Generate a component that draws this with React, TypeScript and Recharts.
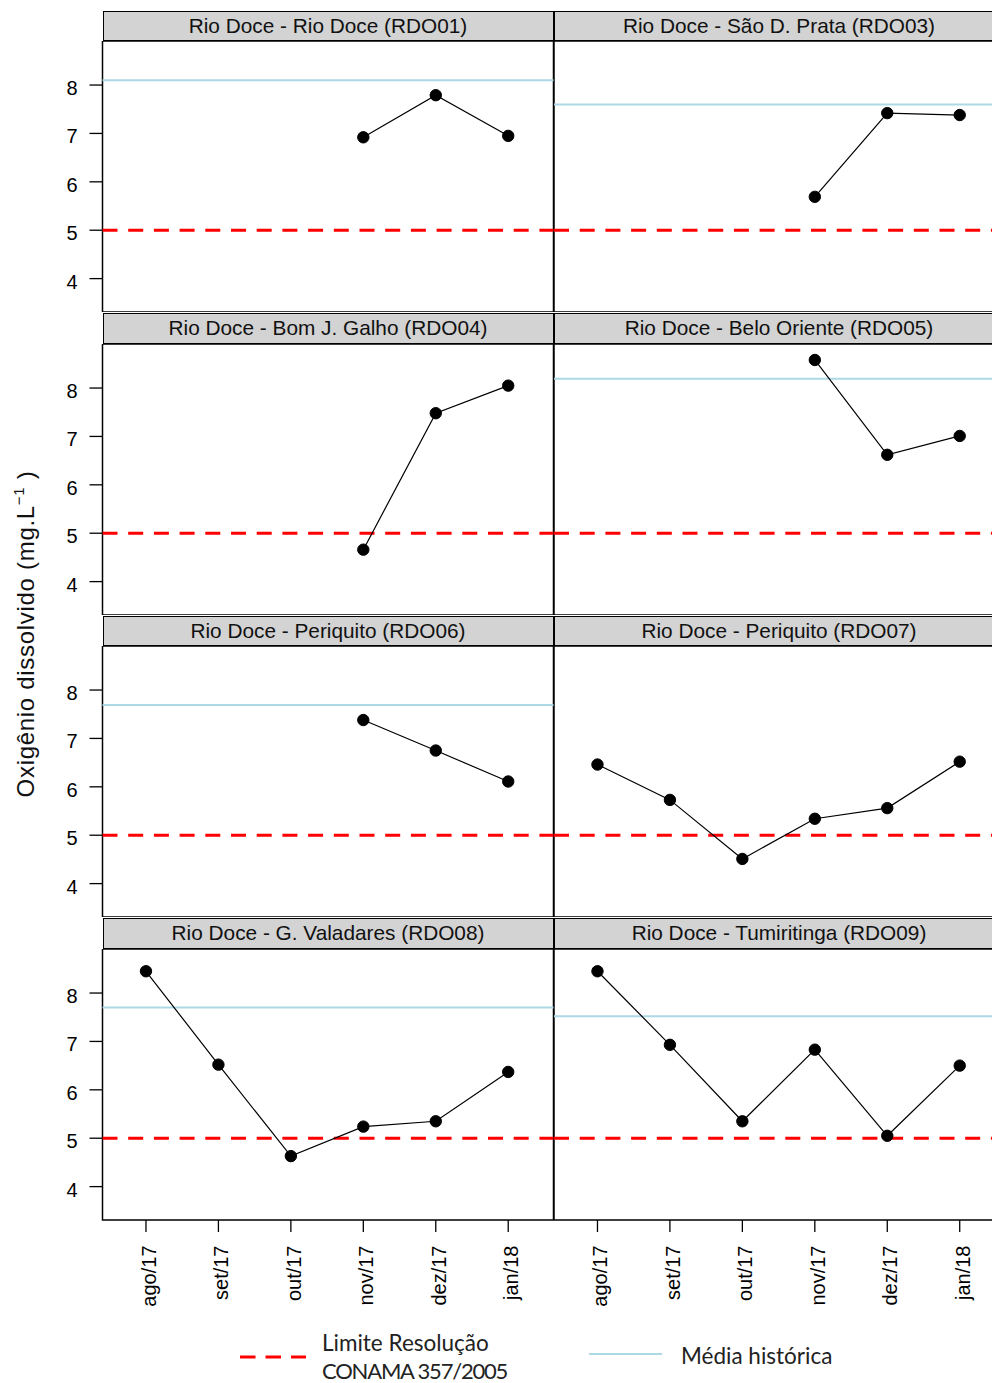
import React from "react";
import { LineChart, Line, XAxis, YAxis, ReferenceLine, ReferenceArea } from "recharts";

const months = ["ago/17", "set/17", "out/17", "nov/17", "dez/17", "jan/18"];
const stations = [
  "Rio Doce - Rio Doce (RDO01)",
  "Rio Doce - São D. Prata (RDO03)",
  "Rio Doce - Bom J. Galho (RDO04)",
  "Rio Doce - Belo Oriente (RDO05)",
  "Rio Doce - Periquito (RDO06)",
  "Rio Doce - Periquito (RDO07)",
  "Rio Doce - G. Valadares (RDO08)",
  "Rio Doce - Tumiritinga (RDO09)",
];

// oxigênio dissolvido (mg/L), ago/17 .. jan/18
const rdo01 = [null, null, null, 6.92, 7.79, 6.95];
const rdo03 = [null, null, null, 5.69, 7.42, 7.38];
const rdo04 = [null, null, null, 4.66, 7.48, 8.05];
const rdo05 = [null, null, null, 8.58, 6.62, 7.01];
const rdo06 = [null, null, null, 7.38, 6.75, 6.11];
const rdo07 = [6.46, 5.73, 4.51, 5.34, 5.56, 6.52];
const rdo08 = [8.45, 6.52, 4.63, 5.24, 5.35, 6.37];
const rdo09 = [8.45, 6.93, 5.35, 6.83, 5.05, 6.5];
const series = [rdo01, rdo03, rdo04, rdo05, rdo06, rdo07, rdo08, rdo09];

const historicalMean = [8.1, 7.6, null, 8.19, 7.69, null, 7.7, 7.52];
const conamaLimit = 5;
const yTicks = [4, 5, 6, 7, 8];

const yDomain = [3.31, 8.91];
const xDomain = [-0.6, 5.625];
const font = "'Liberation Sans', Arial, sans-serif";
const legendFont = "Lato, 'Open Sans', sans-serif";

const panelW = 451;
const panelH = 271;
const stripH = 30.7;
const axisW = 102.5;
const rowTop = (r: number) => 41.3 + r * 302.5;

const YTick = (props: any) => {
  const { x, y, payload } = props;
  return (
    <text x={x} y={y} dy={10} textAnchor="end" fontSize={20} fontFamily={font} fill="#000">
      {payload.value}
    </text>
  );
};

const MonthTick = (props: any) => {
  const { x, y, payload } = props;
  return (
    <g transform={`translate(${x},${y})`}>
      <text transform="rotate(-90)" textAnchor="end" dy={10} fontSize={20} fontFamily={font} fill="#000">
        {months[payload.value]}
      </text>
    </g>
  );
};

function Panel({ idx }: { idx: number }) {
  const row = Math.floor(idx / 2);
  const col = idx % 2;
  const bottom = row === 3;
  const left = col === 0;
  const data = months.map((m, i) => ({ i, v: series[idx][i] }));
  const w = (left ? axisW : 0) + panelW;
  const h = panelH + (bottom ? 110 : 0);
  const x0 = left ? 0 : axisW + panelW;
  const mean = historicalMean[idx];
  return (
    <>
      <div
        style={{
          position: "absolute",
          left: axisW + col * panelW,
          top: rowTop(row) - stripH,
          width: panelW,
          height: stripH,
          boxSizing: "border-box",
          background: "#d3d3d3",
          border: "1.5px solid #000",
          fontFamily: font,
          fontSize: 20.8,
          lineHeight: `${stripH - 2}px`,
          textAlign: "center",
          color: "#111",
          whiteSpace: "nowrap",
        }}
      >
        {stations[idx]}
      </div>
      <div style={{ position: "absolute", left: x0, top: rowTop(row) }}>
        <LineChart width={w} height={h} data={data} margin={{ top: 0, right: 0, bottom: 0, left: 0 }}>
          <XAxis
            dataKey="i"
            type="number"
            domain={xDomain}
            ticks={[0, 1, 2, 3, 4, 5]}
            allowDataOverflow
            hide={!bottom}
            height={bottom ? 110 : 0}
            axisLine={false}
            tickLine={{ stroke: "#000", strokeWidth: 1.3 }}
            tickSize={12}
            tickMargin={13.5}
            tick={<MonthTick />}
            interval={0}
          />
          <YAxis
            type="number"
            domain={yDomain}
            ticks={yTicks}
            allowDataOverflow
            hide={!left}
            width={left ? axisW : 0}
            axisLine={false}
            tickLine={{ stroke: "#000", strokeWidth: 1.3 }}
            tickSize={13}
            tickMargin={12}
            tick={<YTick />}
            interval={0}
          />
          <ReferenceArea
            x1={xDomain[0]}
            x2={xDomain[1]}
            y1={yDomain[0]}
            y2={yDomain[1]}
            fill="none"
            stroke="#000"
            strokeWidth={1.5}
            fillOpacity={0}
            ifOverflow="visible"
          />
          {mean !== null && (
            <ReferenceLine y={mean} stroke="#add8e6" strokeWidth={2} ifOverflow="visible" />
          )}
          <ReferenceLine y={conamaLimit} stroke="#ff0000" strokeWidth={3} strokeDasharray="15 10.7" />
          <Line
            dataKey="v"
            stroke="#000"
            strokeWidth={1.2}
            dot={{ r: 5.7, fill: "#000", stroke: "#000", strokeWidth: 1 }}
            connectNulls={false}
            isAnimationActive={false}
          />
        </LineChart>
      </div>
    </>
  );
}

export default function App() {
  return (
    <div
      style={{
        position: "absolute",
        left: 0,
        top: 0,
        width: 992,
        height: 1383,
        overflow: "hidden",
        background: "#fff",
      }}
    >
      {stations.map((s, i) => (
        <Panel key={s + i} idx={i} />
      ))}
      <svg
        width={992}
        height={1383}
        style={{ position: "absolute", left: 0, top: 0, pointerEvents: "none" }}
      >
        <text
          transform="translate(34,634) rotate(-90)"
          textAnchor="middle"
          fontSize={24}
          letterSpacing={0.7}
          fontFamily={font}
          fill="#111"
        >
          Oxigênio dissolvido (mg.L
          <tspan fontSize={15} dy={-10}>−1</tspan>
          <tspan dy={10}> )</tspan>
        </text>
        <line x1={240} x2={306} y1={1357} y2={1357} stroke="#ff0000" strokeWidth={3} strokeDasharray="15.5 10" />
        <text x={322} y={1350.7} fontSize={22.5} fontFamily={legendFont} fill="#222">
          Limite Resolução
        </text>
        <text x={322} y={1379} fontSize={22} letterSpacing={-1.2} fontFamily={legendFont} fill="#222">
          CONAMA 357/2005
        </text>
        <line x1={589} x2={662} y1={1354} y2={1354} stroke="#add8e6" strokeWidth={2} />
        <text x={681} y={1363.5} fontSize={22.5} fontFamily={legendFont} fill="#222">
          Média histórica
        </text>
      </svg>
    </div>
  );
}
